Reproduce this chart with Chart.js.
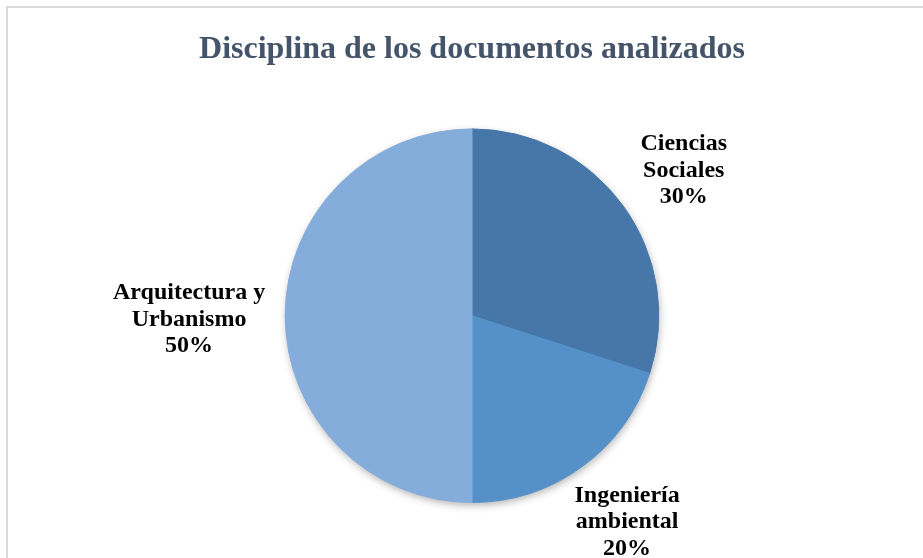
<!DOCTYPE html>
<html>
<head>
<meta charset="utf-8">
<script src="https://cdn.jsdelivr.net/npm/chart.js@4"></script>
<style>
  body { margin: 0; background: #fff; overflow: hidden; }
  .frame { position: absolute; left: 6px; top: 6px; width: 1000px; height: 1000px; border: 2px solid #D9D9D9; }
  .wrap { position: absolute; left: 0; top: 0; width: 923px; height: 558px; }
</style>
</head>
<body>
<div class="frame"></div>
<div class="wrap"><canvas id="chart"></canvas></div>
<script>
const categories = ['Ciencias Sociales', 'Ingeniería ambiental', 'Arquitectura y Urbanismo'];
const labelLines = [['Ciencias', 'Sociales'], ['Ingeniería', 'ambiental'], ['Arquitectura y', 'Urbanismo']];
const values = [30, 20, 50];
const colors = ['#4677A8', '#5591C8', '#84ADDB'];

const serif = '"Liberation Serif", "Times New Roman", serif';

// soft shadow under the whole pie
const pieShadow = {
  id: 'pieShadow',
  beforeDatasetsDraw(chart) {
    const arc = chart.getDatasetMeta(0).data[0];
    if (!arc) return;
    const { ctx } = chart;
    ctx.save();
    ctx.shadowColor = 'rgba(0,0,0,0.35)';
    ctx.shadowBlur = 9;
    ctx.shadowOffsetX = 1;
    ctx.shadowOffsetY = 3;
    ctx.fillStyle = '#fff';
    ctx.beginPath();
    ctx.arc(arc.x, arc.y, arc.outerRadius - 1, 0, Math.PI * 2);
    ctx.fill();
    ctx.restore();
  }
};

// outside labels: name + percent (small per-label nudges, like Excel's best fit)
const nudges = [[2, 7], [0, -7], [-6, 4]];
const outsideLabels = {
  id: 'outsideLabels',
  afterDatasetsDraw(chart) {
    const { ctx } = chart;
    const meta = chart.getDatasetMeta(0);
    const total = values.reduce((a, b) => a + b, 0);
    const lineH = 26.5;
    const gap = 14;
    ctx.save();
    ctx.font = 'bold 24px ' + serif;
    ctx.fillStyle = '#000';
    ctx.textAlign = 'center';
    ctx.textBaseline = 'middle';
    meta.data.forEach((arc, i) => {
      const lines = labelLines[i].concat([Math.round(values[i] / total * 100) + '%']);
      const w = Math.max(...lines.map(l => ctx.measureText(l).width));
      const h = lines.length * lineH;
      const mid = (arc.startAngle + arc.endAngle) / 2;
      const c = Math.cos(mid), s = Math.sin(mid);
      const d = arc.outerRadius + gap + Math.abs(c) * w / 2 + Math.abs(s) * h / 2;
      const cx = arc.x + c * d + nudges[i][0];
      const cy = arc.y + s * d + nudges[i][1];
      lines.forEach((l, j) => {
        ctx.fillText(l, cx, cy - h / 2 + lineH * (j + 0.5));
      });
    });
    ctx.restore();
  }
};

new Chart(document.getElementById('chart'), {
  type: 'pie',
  data: {
    labels: categories,
    datasets: [{
      data: values,
      backgroundColor: colors,
      borderColor: colors,
      borderWidth: 1,
      hoverOffset: 0
    }]
  },
  options: {
    responsive: true,
    maintainAspectRatio: false,
    animation: false,
    layout: {
      padding: { left: 21, right: 0, top: 0, bottom: 55 }
    },
    plugins: {
      legend: { display: false },
      tooltip: { enabled: false },
      title: {
        display: true,
        text: 'Disciplina de los documentos analizados',
        color: '#44546A',
        font: { family: serif, size: 32, weight: 'bold', lineHeight: 1.2 },
        padding: { top: 31, bottom: 59 }
      }
    }
  },
  plugins: [pieShadow, outsideLabels]
});
</script>
</body>
</html>
